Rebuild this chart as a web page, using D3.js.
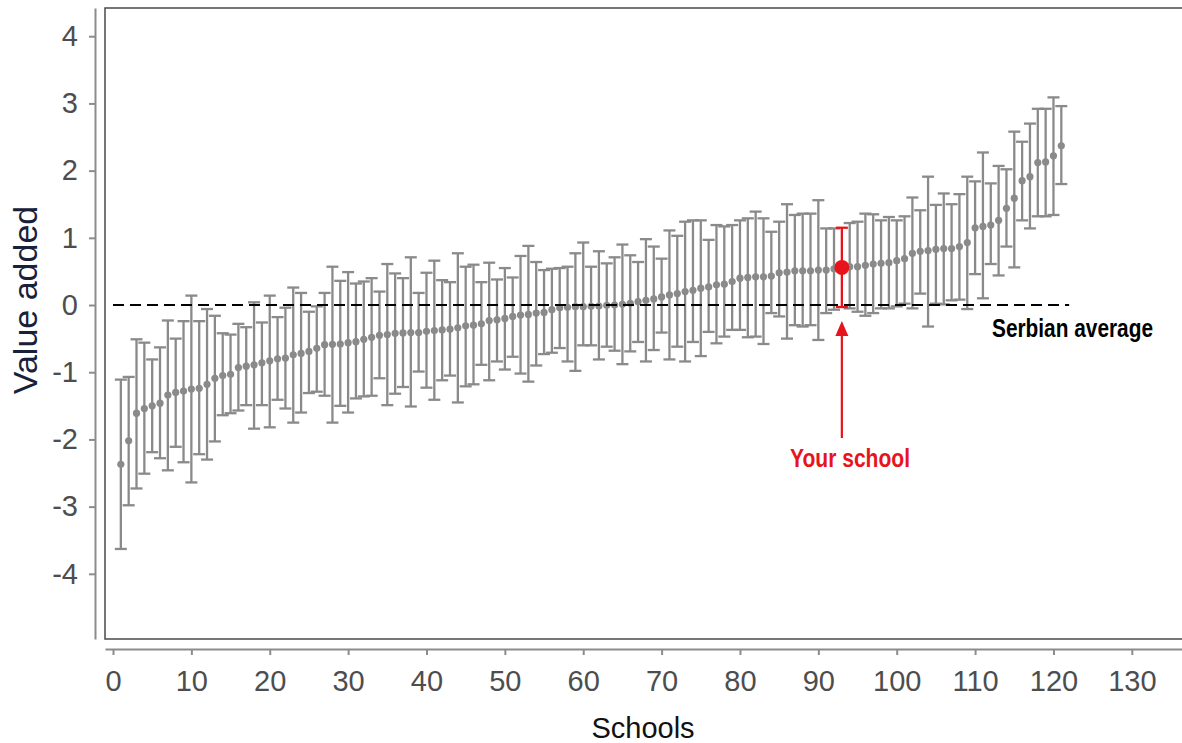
<!DOCTYPE html>
<html>
<head>
<meta charset="utf-8">
<script src="https://cdn.jsdelivr.net/npm/d3@7"></script>
<style>
  body { margin: 0; background: #fff; }
  svg { display: block; font-family: "Liberation Sans", Arial, sans-serif; }
  .tick text { fill: #4d4d4d; font-size: 29px; }
  .note { font-family: "Liberation Sans Narrow", "Arial Narrow", "Liberation Sans", sans-serif; font-weight: bold; font-size: 25px; }
</style>
</head>
<body>
<svg id="chart" width="1182" height="743"></svg>
<script>
// DATA - schools sorted by value added, with 95% intervals
var estimate = [-2.37,-2.02,-1.61,-1.54,-1.50,-1.46,-1.34,-1.30,-1.28,-1.25,
  -1.24,-1.18,-1.09,-1.05,-1.03,-0.93,-0.91,-0.89,-0.86,-0.83,
  -0.80,-0.79,-0.74,-0.72,-0.69,-0.645,-0.59,-0.585,-0.58,-0.56,
  -0.545,-0.51,-0.48,-0.45,-0.44,-0.42,-0.415,-0.41,-0.41,-0.39,
  -0.38,-0.37,-0.36,-0.34,-0.31,-0.30,-0.28,-0.23,-0.22,-0.20,
  -0.17,-0.15,-0.14,-0.12,-0.11,-0.07,-0.04,-0.035,-0.025,-0.025,
  -0.02,-0.015,-0.005,0.0,0.01,0.025,0.05,0.07,0.09,0.12,
  0.15,0.17,0.20,0.22,0.25,0.27,0.30,0.31,0.35,0.40,
  0.41,0.42,0.42,0.43,0.48,0.49,0.51,0.51,0.51,0.52,
  0.52,0.54,0.56,0.57,0.57,0.59,0.61,0.62,0.63,0.66,
  0.69,0.77,0.80,0.81,0.83,0.84,0.84,0.87,0.93,1.15,
  1.17,1.19,1.26,1.44,1.59,1.85,1.91,2.12,2.13,2.22,
  2.37];
var upper = [-1.11,-1.07,-0.51,-0.56,-0.81,-0.63,-0.23,-0.50,-0.24,0.14,
  -0.24,-0.06,-0.16,-0.42,-0.44,-0.28,-0.33,0.04,-0.26,0.14,
  -0.18,-0.04,0.26,0.18,-0.10,-0.02,0.18,0.57,0.36,0.49,
  0.32,0.35,0.40,0.20,0.61,0.47,0.40,0.71,0.18,0.48,
  0.66,0.37,0.34,0.77,0.57,0.60,0.34,0.63,0.38,0.55,
  0.41,0.73,0.88,0.64,0.52,0.54,0.55,0.57,0.77,0.93,
  0.57,0.80,0.62,0.71,0.90,0.74,0.64,0.98,0.87,0.69,
  1.11,1.03,1.24,1.26,1.26,0.97,1.19,1.17,1.19,1.26,
  1.29,1.39,1.29,1.09,1.24,1.50,1.34,1.36,1.36,1.56,
  1.14,1.14,1.15,1.22,1.24,1.36,1.35,1.26,1.31,1.26,
  1.32,1.60,1.41,1.91,1.49,1.66,1.50,1.65,1.91,1.84,
  2.27,1.81,2.07,2.02,2.58,2.43,2.70,2.92,2.92,3.09,
  2.96];
var lower = [-3.63,-2.98,-2.73,-2.51,-2.19,-2.28,-2.46,-2.11,-2.34,-2.64,
  -2.22,-2.30,-2.03,-1.64,-1.61,-1.57,-1.49,-1.84,-1.49,-1.82,
  -1.41,-1.54,-1.75,-1.60,-1.31,-1.29,-1.35,-1.75,-1.50,-1.60,
  -1.39,-1.36,-1.35,-1.09,-1.49,-1.32,-1.22,-1.51,-0.99,-1.23,
  -1.41,-1.12,-1.05,-1.45,-1.21,-1.18,-0.89,-1.12,-0.84,-0.96,
  -0.77,-1.02,-1.14,-0.90,-0.73,-0.71,-0.64,-0.84,-0.98,-0.60,
  -0.60,-0.81,-0.62,-0.68,-0.88,-0.69,-0.55,-0.84,-0.67,-0.41,
  -0.81,-0.62,-0.84,-0.55,-0.76,-0.40,-0.57,-0.47,-0.37,-0.37,
  -0.48,-0.47,-0.58,-0.12,-0.17,-0.50,-0.30,-0.32,-0.30,-0.52,
  -0.12,-0.07,-0.03,-0.05,-0.10,-0.16,-0.12,-0.05,-0.05,-0.02,
  0.02,-0.05,0.17,-0.32,0.02,0.01,0.07,0.08,-0.06,0.46,
  0.10,0.61,0.44,0.87,0.56,1.26,1.14,1.32,1.32,1.34,
  1.80];
var yourSchool = 93;
var averageLine = [0, 122];   // schools span of the Serbian average line
var xTicks = [0,10,20,30,40,50,60,70,80,90,100,110,120,130];
var yTicks = [-4,-3,-2,-1,0,1,2,3,4];

var schools = estimate.map(function(v, i) {
  return { school: i + 1, est: v, lo: lower[i], hi: upper[i] };
});

// SCALES
var svg = d3.select('#chart');
var x = d3.scaleLinear().domain([-1.02, 136.4]).range([105, 1182]);
var y = d3.scaleLinear().domain([-4.97, 4.42]).range([639, 8]);

// panel border
svg.append('rect')
  .attr('x', x.range()[0]).attr('y', y.range()[1])
  .attr('width', 1200).attr('height', y.range()[0] - y.range()[1])
  .attr('fill', 'none').attr('stroke', '#4a4a4a').attr('stroke-width', 1.5);

// AXES
var plain = function(d) { return String(d); };   // hyphen minus like the original
var yAxis = svg.append('g')
  .attr('transform', 'translate(95,0)')
  .call(d3.axisLeft(y).tickValues(yTicks).tickFormat(plain).tickSize(6).tickSizeOuter(0).tickPadding(11));
var xAxis = svg.append('g')
  .attr('transform', 'translate(0,649)')
  .call(d3.axisBottom(x).tickValues(xTicks).tickFormat(plain).tickSize(6).tickSizeOuter(0).tickPadding(15));
[xAxis, yAxis].forEach(function(a) {
  a.select('.domain').attr('stroke', '#8c8c8c').attr('stroke-width', 2);
  a.selectAll('.tick line').attr('stroke', '#8c8c8c').attr('stroke-width', 2);
  a.selectAll('.tick text').attr('font-family', '"Liberation Sans", Arial, sans-serif');
});

svg.append('text')
  .attr('x', 643).attr('y', 738)
  .attr('text-anchor', 'middle')
  .attr('font-size', 29).attr('fill', '#111')
  .text('Schools');
svg.append('text')
  .attr('transform', 'translate(37,300) rotate(-90)')
  .attr('text-anchor', 'middle')
  .attr('font-size', 34).attr('fill', '#17213a')
  .text('Value added');

// ERROR BARS
var grey = '#8a8a8a';
var others = schools.filter(function(d) { return d.school !== yourSchool; });
var mine = schools.filter(function(d) { return d.school === yourSchool; });

function drawBars(sel, col, w) {
  var g = sel.enter().append('g').attr('class', 'school');
  g.append('line')
    .attr('x1', function(d) { return x(d.school); })
    .attr('x2', function(d) { return x(d.school); })
    .attr('y1', function(d) { return y(d.lo); })
    .attr('y2', function(d) { return y(d.hi); })
    .attr('stroke', col).attr('stroke-width', w);
  ['lo', 'hi'].forEach(function(k) {
    g.append('line')
      .attr('x1', function(d) { return x(d.school) - 6; })
      .attr('x2', function(d) { return x(d.school) + 6; })
      .attr('y1', function(d) { return y(d[k]); })
      .attr('y2', function(d) { return y(d[k]); })
      .attr('stroke', col).attr('stroke-width', w);
  });
  return g;
}

drawBars(svg.append('g').selectAll('g').data(others), grey, 2.3)
  .append('circle')
  .attr('cx', function(d) { return x(d.school); })
  .attr('cy', function(d) { return y(d.est); })
  .attr('r', 3.6)
  .attr('fill', grey);

// Serbian average line
svg.append('line')
  .attr('x1', x(averageLine[0])).attr('x2', x(averageLine[1]))
  .attr('y1', y(0)).attr('y2', y(0))
  .attr('stroke', '#000').attr('stroke-width', 2)
  .attr('stroke-dasharray', '11,6');

var red = '#e8141b';
drawBars(svg.append('g').selectAll('g').data(mine), red, 2.3)
  .append('circle')
  .attr('cx', function(d) { return x(d.school); })
  .attr('cy', function(d) { return y(d.est); })
  .attr('r', 7.5)
  .attr('fill', red);

// ANNOTATIONS
var ax = x(yourSchool);
svg.append('line')
  .attr('x1', ax).attr('x2', ax)
  .attr('y1', 438).attr('y2', 334)
  .attr('stroke', red).attr('stroke-width', 2.2);
svg.append('path')
  .attr('d', 'M' + ax + ',321 L' + (ax - 6.5) + ',336 L' + (ax + 6.5) + ',336 Z')
  .attr('fill', red);
svg.append('text')
  .attr('class', 'note')
  .attr('x', 790).attr('y', 467)
  .attr('textLength', 120).attr('lengthAdjust', 'spacingAndGlyphs')
  .attr('fill', red)
  .text('Your school');
svg.append('text')
  .attr('class', 'note')
  .attr('x', 992).attr('y', 337)
  .attr('textLength', 161).attr('lengthAdjust', 'spacingAndGlyphs')
  .attr('fill', '#000')
  .text('Serbian average');
</script>
</body>
</html>
